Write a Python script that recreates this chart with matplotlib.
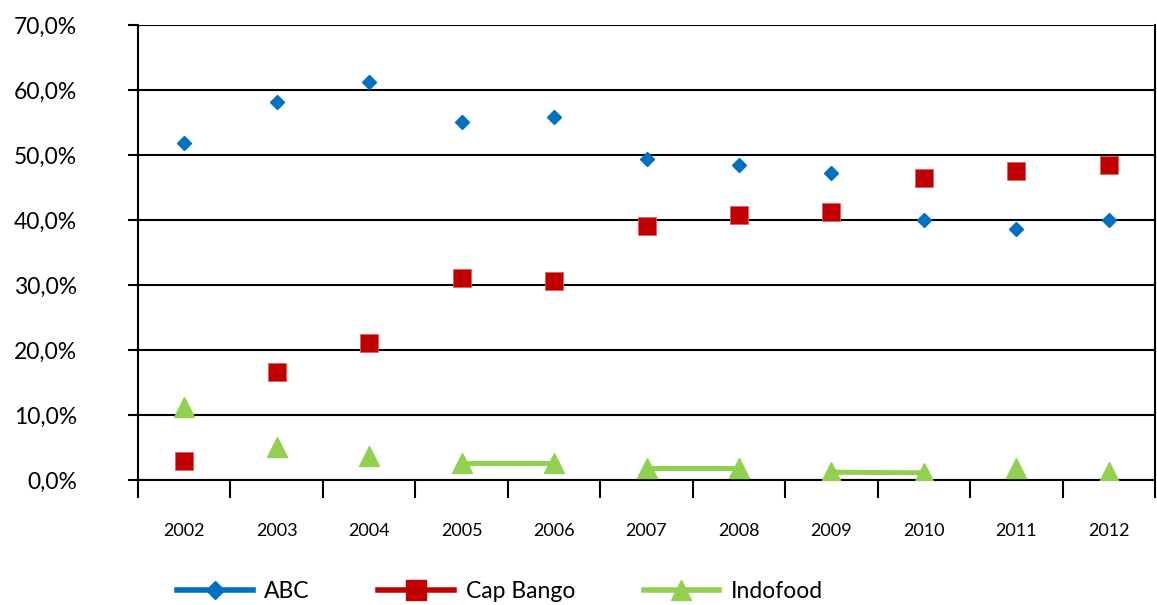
import numpy as np
import matplotlib.pyplot as plt
from matplotlib.lines import Line2D
from matplotlib.ticker import FuncFormatter, FixedLocator

plt.rcParams['font.family'] = ['Lato', 'DejaVu Sans']

years = ['2002', '2003', '2004', '2005', '2006', '2007', '2008', '2009', '2010', '2011', '2012']
abc = [51.8, 58.1, 61.3, 55.1, 55.9, 49.4, 48.4, 47.3, 40.0, 38.6, 40.0]
cap_bango = [2.9, 16.6, 21.1, 31.1, 30.6, 39.1, 40.8, 41.3, 46.5, 47.6, 48.4]
indofood = [11.3, 5.1, 3.7, 2.6, 2.6, 1.8, 1.8, 1.2, 1.1, 1.8, 1.3]
# pairs of years that Indofood has joined by a line
indofood_links = [('2005', '2006'), ('2007', '2008'), ('2009', '2010')]

blue = '#0070C0'
red = '#C00000'
green = '#92D050'

fig = plt.figure(figsize=(11.57, 6.05), dpi=100)
ax = fig.add_axes([138 / 1157, 1 - 480 / 605, (1155 - 138) / 1157, (480 - 25) / 605])

x = np.arange(len(years))

for a, b in indofood_links:
    i, j = years.index(a), years.index(b)
    ax.plot([x[i], x[j]], [indofood[i], indofood[j]], color=green, lw=3.6,
            solid_capstyle='butt', zorder=2)

ax.plot(x, abc, 'D', color=blue, ms=7.5, mec=blue, zorder=3)
ax.plot(x, cap_bango, 's', color=red, ms=12.5, mec='#e06060', mew=0.6, zorder=3)
ax.plot(x, indofood, '^', color=green, ms=14, mec=green, zorder=3)

ax.set_xlim(-0.5, len(years) - 0.5)
ax.set_ylim(0, 70)
ax.set_yticks(np.arange(0, 71, 10))
ax.yaxis.set_major_formatter(FuncFormatter(lambda v, p: f'{v:.1f}%'.replace('.', ',')))
ax.grid(axis='y', color='black', lw=1.5)
ax.set_axisbelow(True)

ax.set_xticks(x)
ax.set_xticklabels(years)
ax.xaxis.set_minor_locator(FixedLocator(np.arange(-0.5, len(years), 1)))
ax.tick_params(axis='x', which='major', length=0, pad=31, labelsize=13)
ax.tick_params(axis='x', which='minor', length=13, width=1.5, color='black', direction='out')
ax.tick_params(axis='y', length=7, width=1.5, color='black', labelsize=16.5, pad=37)
for lab in ax.get_yticklabels():
    lab.set_horizontalalignment('right')

for side in ['left', 'right', 'bottom']:
    ax.spines[side].set_color('black')
    ax.spines[side].set_linewidth(1.5)
ax.spines['top'].set_visible(False)

handles = [
    Line2D([], [], color=blue, lw=4, marker='D', ms=9),
    Line2D([], [], color=red, lw=4, marker='s', ms=15),
    Line2D([], [], color=green, lw=4, marker='^', ms=15),
]
fig.legend(handles, ['ABC', 'Cap Bango', 'Indofood'], loc='center',
           bbox_to_anchor=(500 / 1157, 1 - 592 / 605), ncol=3, frameon=False,
           fontsize=16.5, handlelength=3.3, handletextpad=0.5, columnspacing=3.0)

fig.savefig('out.png', dpi=100)
